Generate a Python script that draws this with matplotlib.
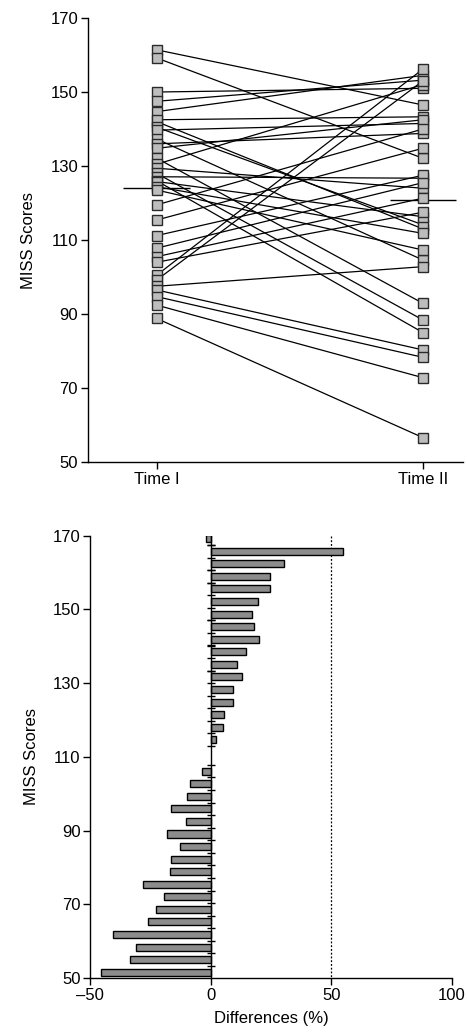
import numpy as np
import matplotlib
matplotlib.use("Agg")
import matplotlib.pyplot as plt

plt.rcParams['font.family'] = ['Liberation Sans', 'DejaVu Sans']
plt.rcParams['font.size'] = 12

# MISS scores per subject, Time I -> Time II
time1 = [161.4, 159.2, 150.0, 147.5, 144.7, 142.0, 142.5, 140.5, 139.7, 137.3,
         136.0, 134.8, 132.1, 130.5, 129.4, 128.0, 127.1, 126.0, 125.8, 124.4,
         123.5, 119.5, 115.4, 111.2, 107.8, 105.5, 104.0, 100.5, 99.2, 97.5,
         96.5, 94.7, 92.4, 88.8]
time2 = [146.5, 132.1, 151.0, 153.2, 154.5, 113.0, 143.3, 114.1, 141.5, 104.6,
         138.8, 142.5, 92.9, 152.0, 124.0, 88.4, 126.7, 85.0, 116.3, 111.8,
         107.3, 140.0, 134.8, 127.5, 125.5, 121.3, 117.5, 156.2, 153.0, 102.8,
         80.3, 78.3, 72.8, 56.6]
time_labels = ["Time I", "Time II"]

# percentage differences, top to bottom
diffs = [-2.0, 55.0, 30.4, 24.4, 24.7, 19.7, 16.9, 18.0, 19.9, 14.6,
         10.8, 12.8, 9.1, 9.4, 5.4, 5.0, 2.1,
         -3.7, -8.7, -9.7, -16.6, -10.4, -18.0, -12.8, -16.6, -16.8,
         -28.0, -19.3, -22.5, -26.0, -40.4, -31.1, -33.4, -45.6]
n_positive_group = 17
y_ticks = [50, 70, 90, 110, 130, 150, 170]
x_ticks = [-50, 0, 50, 100]
x_ticklabels = ["\u201350", "0", "50", "100"]
ref_line = 50

fig = plt.figure(figsize=(4.67, 10.35), dpi=100)

# ---- top: paired scores ----
ax = fig.add_axes([0.188, 0.5536, 0.803, 0.429])
for a, b in zip(time1, time2):
    ax.plot([0, 1], [a, b], color='black', lw=0.9, zorder=2)
ax.plot(np.zeros(len(time1)), time1, 's', ms=7.8, mfc='#bdbdbd', mec='#2a2a2a',
        mew=1.0, ls='none', zorder=4)
ax.plot(np.ones(len(time2)), time2, 's', ms=7.8, mfc='#bdbdbd', mec='#2a2a2a',
        mew=1.0, ls='none', zorder=4)
for xpos, vals in [(0, time1), (1, time2)]:
    ax.hlines(np.mean(vals), xpos - 0.125, xpos + 0.125, color='black', lw=1.0, zorder=1)
ax.set_xlim(-0.259, 1.15)
ax.set_ylim(50, 170)
ax.set_xticks([0, 1])
ax.set_xticklabels(time_labels)
ax.set_yticks(y_ticks)
ax.set_ylabel("MISS Scores", labelpad=10)

# ---- bottom: differences ----
bx = fig.add_axes([0.193, 0.0551, 0.775, 0.4273])
slot = 3.41
top = 169.2
idx = np.arange(len(diffs))
pos = top - slot * (idx + 1.5 * (idx >= n_positive_group))
bx.barh(pos, diffs, height=1.9, color='#8c8c8c', edgecolor='black', lw=1.0, zorder=3)
tick_pos = np.unique(np.round(np.concatenate([pos + slot / 2, pos - slot / 2]), 2))
bx.plot([0, 0], [pos[0] + slot / 2, pos[-1] - slot / 2], color='black', lw=1.0, zorder=4)
bx.plot(np.zeros(len(tick_pos)), tick_pos, marker='_', ms=6, mew=1.0, color='black',
        ls='none', zorder=4)
bx.plot([ref_line, ref_line], [170, 50], color='black', lw=0.9, ls=(0, (1.5, 1.5)), zorder=1)
bx.set_xlim(-50, 100)
bx.set_ylim(50, 170)
bx.set_xticks(x_ticks)
bx.set_xticklabels(x_ticklabels)
bx.set_yticks(y_ticks)
bx.set_ylabel("MISS Scores", labelpad=10)
bx.set_xlabel("Differences (%)", labelpad=6)

for a in (ax, bx):
    a.spines['top'].set_visible(False)
    a.spines['right'].set_visible(False)
    a.spines['left'].set_linewidth(1.0)
    a.spines['bottom'].set_linewidth(1.0)
    a.tick_params(direction='out', length=5, width=1.0, labelsize=12, pad=2)

fig.savefig("out.png", dpi=100)
